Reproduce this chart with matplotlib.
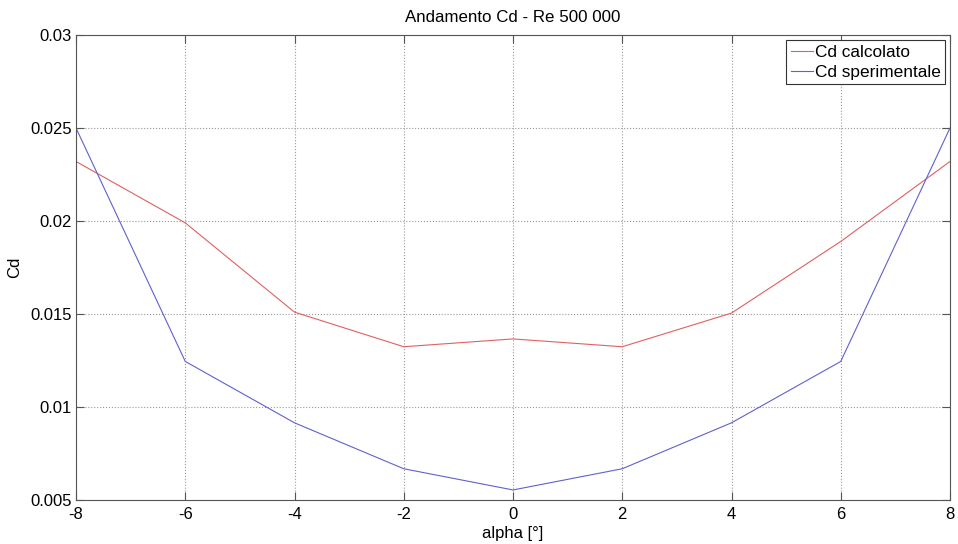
import matplotlib.pyplot as plt

plt.rcParams['font.family'] = ['Liberation Sans', 'DejaVu Sans']
plt.rcParams['axes.unicode_minus'] = False

# angolo di incidenza
alpha = [-8, -6, -4, -2, 0, 2, 4, 6, 8]
# coefficienti di resistenza
cd_calcolato = [0.0232, 0.0199, 0.0151, 0.01324, 0.01366, 0.01324, 0.01505, 0.0189, 0.0232]
cd_sperimentale = [0.0250, 0.01245, 0.00915, 0.00668, 0.00554, 0.00668, 0.00915, 0.01245, 0.0250]

x_ticks = [-8, -6, -4, -2, 0, 2, 4, 6, 8]
y_ticks = [0.005, 0.01, 0.015, 0.02, 0.025, 0.03]
y_labels = ['0.005', '0.01', '0.015', '0.02', '0.025', '0.03']

fig = plt.figure(figsize=(9.58, 5.44), dpi=100)
ax = fig.add_axes([76/958, 44/544, 874/958, 465/544])

ax.plot(alpha, cd_calcolato, color='#e06060', lw=0.8, label='Cd calcolato')
ax.plot(alpha, cd_sperimentale, color='#6060d0', lw=0.8, label='Cd sperimentale')

ax.set_xlim(-8, 8)
ax.set_ylim(0.005, 0.03)
ax.set_xticks(x_ticks)
ax.set_yticks(y_ticks)
ax.set_yticklabels(y_labels)
ax.tick_params(direction='in', top=True, right=True, length=6, labelsize=12, color='#555555', pad=3)
ax.tick_params(axis='x', pad=5)
for s in ax.spines.values():
    s.set_color('#555555')
ax.grid(True, linestyle=':', color='#999999', lw=0.8)

ax.set_xlabel('alpha [°]', fontsize=12, labelpad=3)
ax.set_ylabel('Cd', fontsize=12, labelpad=6)
ax.set_title('Andamento Cd - Re 500 000', fontsize=12.2, pad=9)

leg = ax.legend(loc='upper right', fontsize=12.4, fancybox=False, framealpha=1,
                edgecolor='#333333', borderaxespad=0.3, handlelength=1.3,
                handletextpad=0.1, labelspacing=0.3, borderpad=0.25)
leg.get_frame().set_linewidth(0.8)

fig.savefig('out.png', dpi=100)
